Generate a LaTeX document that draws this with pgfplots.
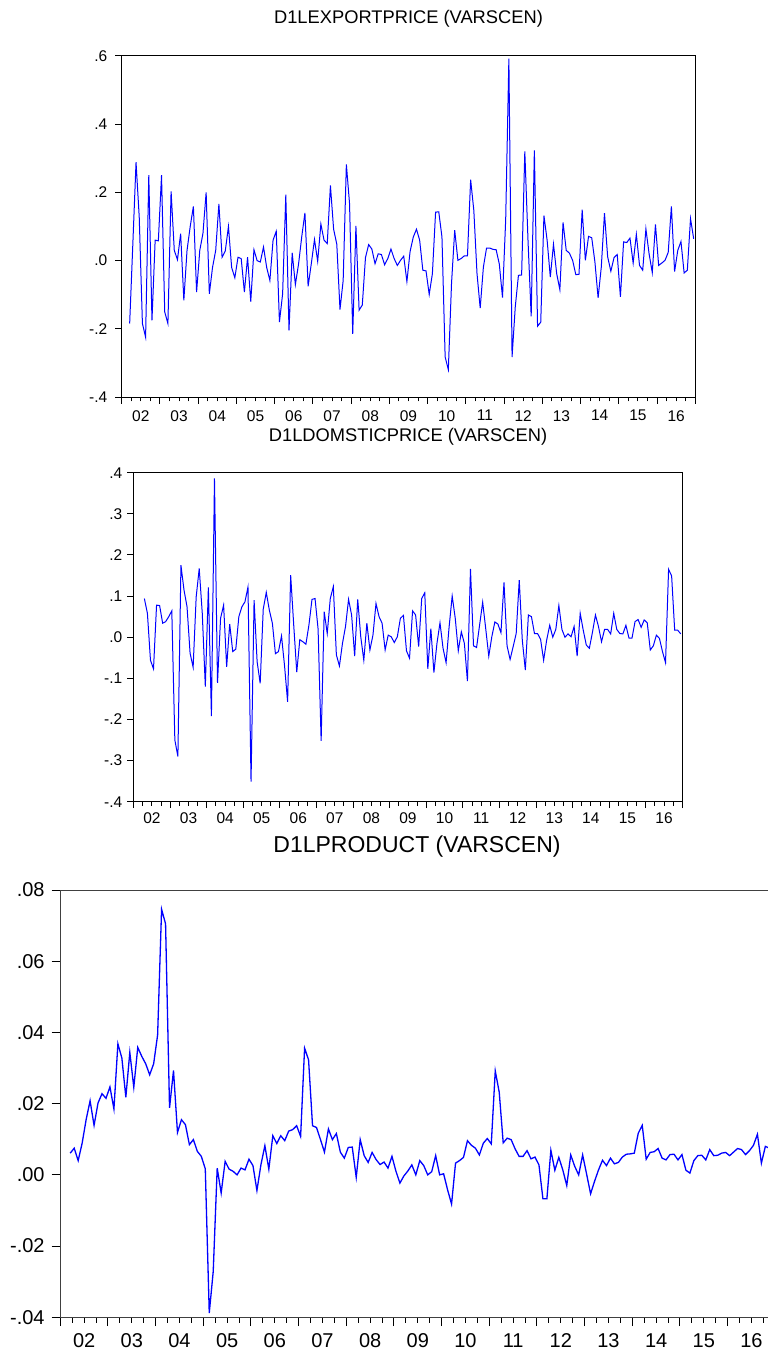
\documentclass[border=0pt]{standalone}
\usepackage{fontspec}
\setmainfont{Liberation Sans}
\usepackage{pgfplots}
\pgfplotsset{compat=1.18}
\pgfplotsset{
  evstyle/.style={
    scale only axis,
    xmin=0, xmax=180,
    xtick={0,12,...,180}, xticklabels={},
    minor xtick={3,6,...,177},
    extra x ticks={6,18,...,174},
    extra x tick labels={02,03,04,05,06,07,08,09,10,11,12,13,14,15,16},
    extra x tick style={major tick length=0pt},
    xtick pos=bottom, ytick pos=left,
    tick align=outside,
    scaled y ticks=false, scaled x ticks=false,
    axis line style={line width=0.5pt},
    tick style={black, line width=0.5pt},
    xticklabel style={anchor=north, inner sep=0pt},
    yticklabel style={anchor=east, inner sep=0pt},
    clip=true,
  }
}
\begin{document}
\begin{tikzpicture}
\useasboundingbox (0,0) rectangle (383.5pt,675.5pt);
% ---------- Panel 1 ----------
\node[anchor=base, font=\fontsize{9.15pt}{11pt}\selectfont] at (204.25pt,663.85pt) {D1LEXPORTPRICE (VARSCEN)};
\begin{axis}[evstyle, at={(60.85pt,476.85pt)}, anchor=south west,
  width=286.8pt, height=170.8pt, ymin=-0.4, ymax=0.6,
  major tick length=3.25pt, minor tick length=2pt,
  ytick={-0.4,-0.2,0,0.2,0.4,0.6}, yticklabels={-.4,-.2,.0,.2,.4,.6},
  tick label style={font=\fontsize{7.75pt}{9pt}\selectfont},
  xticklabel style={yshift=-6.25pt}, yticklabel style={xshift=-3.75pt}]
\addplot[blue, line width=0.5pt, mark=none] coordinates {
(2.5,-0.184)(3.5,0.05)(4.5,0.288)(5.5,0.128)(6.5,-0.184)(7.5,-0.224)(8.5,0.25)(9.5,-0.175)(10.5,0.06)(11.5,0.058)
(12.5,0.25)(13.5,-0.15)(14.5,-0.184)(15.5,0.203)(16.5,0.03)(17.5,0.003)(18.5,0.079)(19.5,-0.116)(20.5,0.03)(21.5,0.1)
(22.5,0.159)(23.5,-0.092)(24.5,0.03)(25.5,0.08)(26.5,0.2)(27.5,-0.097)(28.5,-0.02)(29.5,0.03)(30.5,0.166)(31.5,0.01)
(32.5,0.028)(33.5,0.1)(34.5,-0.02)(35.5,-0.05)(36.5,0.01)(37.5,0.006)(38.5,-0.092)(39.5,0.01)(40.5,-0.12)(41.5,0.032)
(42.5,0.0)(43.5,-0.004)(44.5,0.04)(45.5,-0.02)(46.5,-0.058)(47.5,0.06)(48.5,0.086)(49.5,-0.18)(50.5,-0.097)(51.5,0.193)
(52.5,-0.204)(53.5,0.023)(54.5,-0.07)(55.5,-0.01)(56.5,0.07)(57.5,0.14)(58.5,-0.075)(59.5,-0.009)(60.5,0.062)(61.5,-0.002)
(62.5,0.107)(63.5,0.06)(64.5,0.05)(65.5,0.22)(66.5,0.092)(67.5,0.048)(68.5,-0.143)(69.5,-0.058)(70.5,0.282)(71.5,0.167)
(72.5,-0.214)(73.5,0.102)(74.5,-0.145)(75.5,-0.13)(76.5,0.009)(77.5,0.047)(78.5,0.034)(79.5,-0.009)(80.5,0.02)(81.5,0.018)
(82.5,-0.012)(83.5,0.006)(84.5,0.034)(85.5,0.006)(86.5,-0.014)(87.5,0.001)(88.5,0.013)(89.5,-0.061)(90.5,0.027)(91.5,0.069)
(92.5,0.092)(93.5,0.06)(94.5,-0.028)(95.5,-0.03)(96.5,-0.099)(97.5,-0.038)(98.5,0.142)(99.5,0.143)(100.5,0.069)(101.5,-0.282)
(102.5,-0.319)(103.5,-0.067)(104.5,0.089)(105.5,0.001)(106.5,0.006)(107.5,0.014)(108.5,0.014)(109.5,0.237)(110.5,0.147)(111.5,-0.038)
(112.5,-0.139)(113.5,-0.019)(114.5,0.037)(115.5,0.037)(116.5,0.033)(117.5,0.032)(118.5,-0.01)(119.5,-0.108)(120.5,0.12)(121.5,0.591)
(122.5,-0.282)(123.5,-0.136)(124.5,-0.043)(125.5,-0.042)(126.5,0.32)(127.5,0.06)(128.5,-0.163)(129.5,0.323)(130.5,-0.192)(131.5,-0.18)
(132.5,0.132)(133.5,0.06)(134.5,-0.048)(135.5,0.048)(136.5,-0.038)(137.5,-0.085)(138.5,0.112)(139.5,0.03)(140.5,0.022)(141.5,0.001)
(142.5,-0.041)(143.5,-0.04)(144.5,0.149)(145.5,0.001)(146.5,0.071)(147.5,0.067)(148.5,-0.004)(149.5,-0.109)(150.5,-0.019)(151.5,0.139)
(152.5,0.011)(153.5,-0.031)(154.5,0.009)(155.5,0.018)(156.5,-0.106)(157.5,0.055)(158.5,0.053)(159.5,0.066)(160.5,-0.007)(161.5,0.077)
(162.5,-0.014)(163.5,-0.028)(164.5,0.093)(165.5,0.02)(166.5,-0.035)(167.5,0.106)(168.5,-0.014)(169.5,-0.007)(170.5,0.001)(171.5,0.024)
(172.5,0.159)(173.5,-0.032)(174.5,0.03)(175.5,0.056)(176.5,-0.036)(177.5,-0.028)(178.5,0.123)(179.5,0.064)
};
\end{axis}
% ---------- Panel 2 ----------
\node[anchor=base, font=\fontsize{9.15pt}{11pt}\selectfont] at (204pt,454.65pt) {D1LDOMSTICPRICE (VARSCEN)};
\begin{axis}[evstyle, at={(66.85pt,274.65pt)}, anchor=south west,
  width=274.3pt, height=164.5pt, ymin=-0.4, ymax=0.4,
  major tick length=3.25pt, minor tick length=2pt,
  ytick={-0.4,-0.3,-0.2,-0.1,0,0.1,0.2,0.3,0.4}, yticklabels={-.4,-.3,-.2,-.1,.0,.1,.2,.3,.4},
  tick label style={font=\fontsize{7.75pt}{9pt}\selectfont},
  xticklabel style={yshift=-5.5pt}, yticklabel style={xshift=-2.25pt}]
\addplot[blue, line width=0.5pt, mark=none] coordinates {
(3.5,0.094)(4.5,0.058)(5.5,-0.056)(6.5,-0.077)(7.5,0.078)(8.5,0.077)(9.5,0.034)(10.5,0.038)(11.5,0.05)
(12.5,0.064)(13.5,-0.25)(14.5,-0.29)(15.5,0.175)(16.5,0.115)(17.5,0.074)(18.5,-0.039)(19.5,-0.073)(20.5,0.098)(21.5,0.167)
(22.5,0.058)(23.5,-0.12)(24.5,0.121)(25.5,-0.192)(26.5,0.386)(27.5,-0.111)(28.5,0.046)(29.5,0.078)(30.5,-0.072)(31.5,0.032)
(32.5,-0.035)(33.5,-0.029)(34.5,0.05)(35.5,0.074)(36.5,0.086)(37.5,0.122)(38.5,-0.351)(39.5,0.09)(40.5,-0.06)(41.5,-0.112)
(42.5,0.068)(43.5,0.109)(44.5,0.066)(45.5,0.034)(46.5,-0.04)(47.5,-0.035)(48.5,0.003)(49.5,-0.07)(50.5,-0.157)(51.5,0.151)
(52.5,0.03)(53.5,-0.085)(54.5,-0.006)(55.5,-0.011)(56.5,-0.017)(57.5,0.03)(58.5,0.092)(59.5,0.094)(60.5,0.02)(61.5,-0.252)
(62.5,0.062)(63.5,0.009)(64.5,0.094)(65.5,0.123)(66.5,-0.043)(67.5,-0.07)(68.5,-0.015)(69.5,0.026)(70.5,0.092)(71.5,0.054)
(72.5,-0.046)(73.5,0.092)(74.5,0.001)(75.5,-0.056)(76.5,0.034)(77.5,-0.031)(78.5,0.005)(79.5,0.082)(80.5,0.05)(81.5,0.034)
(82.5,-0.031)(83.5,0.005)(84.5,0.001)(85.5,-0.013)(86.5,0.001)(87.5,0.046)(88.5,0.053)(89.5,-0.033)(90.5,-0.051)(91.5,0.064)
(92.5,0.054)(93.5,-0.023)(94.5,0.094)(95.5,0.108)(96.5,-0.077)(97.5,0.021)(98.5,-0.086)(99.5,-0.015)(100.5,0.035)(101.5,-0.027)
(102.5,-0.062)(103.5,0.026)(104.5,0.1)(105.5,0.046)(106.5,-0.033)(107.5,0.013)(108.5,-0.015)(109.5,-0.107)(110.5,0.166)(111.5,-0.021)
(112.5,-0.025)(113.5,0.03)(114.5,0.085)(115.5,0.021)(116.5,-0.046)(117.5,0.001)(118.5,0.037)(119.5,0.032)(120.5,0.011)(121.5,0.133)
(122.5,-0.021)(123.5,-0.054)(124.5,-0.023)(125.5,0.009)(126.5,0.139)(127.5,-0.007)(128.5,-0.08)(129.5,0.054)(130.5,0.05)(131.5,0.009)
(132.5,0.009)(133.5,-0.005)(134.5,-0.056)(135.5,-0.007)(136.5,0.029)(137.5,0.0)(138.5,0.019)(139.5,0.077)(140.5,0.019)(141.5,0.0)
(142.5,0.008)(143.5,0.001)(144.5,0.026)(145.5,-0.046)(146.5,0.058)(147.5,0.017)(148.5,-0.019)(149.5,-0.027)(150.5,0.011)(151.5,0.054)
(152.5,0.026)(153.5,-0.011)(154.5,0.019)(155.5,0.019)(156.5,0.008)(157.5,0.058)(158.5,0.019)(159.5,0.009)(160.5,0.008)(161.5,0.029)
(162.5,-0.002)(163.5,-0.002)(164.5,0.038)(165.5,0.043)(166.5,0.024)(167.5,0.042)(168.5,0.035)(169.5,-0.031)(170.5,-0.021)(171.5,0.005)
(172.5,-0.003)(173.5,-0.035)(174.5,-0.062)(175.5,0.165)(176.5,0.149)(177.5,0.017)(178.5,0.017)(179.5,0.008)
};
\end{axis}
% ---------- Panel 3 ----------
\node[anchor=base, font=\fontsize{11.5pt}{13pt}\selectfont] at (208.5pt,249pt) {D1LPRODUCT (VARSCEN)};
\begin{axis}[evstyle, at={(30.15pt,16.85pt)}, anchor=south west,
  width=357.5pt, height=213.65pt, ymin=-0.04, ymax=0.08,
  major tick length=4.4pt, minor tick length=2.8pt,
  axis line style={black!75, line width=0.5pt},
  ytick={-0.04,-0.02,0,0.02,0.04,0.06,0.08}, yticklabels={-.04,-.02,.00,.02,.04,.06,.08},
  tick label style={font=\fontsize{10pt}{12pt}\selectfont},
  xticklabel style={yshift=-8pt}, yticklabel style={xshift=-3.25pt}]
\addplot[blue, line width=0.65pt, mark=none] coordinates {
(2.5,0.0061)(3.5,0.0075)(4.5,0.0040)(5.5,0.0089)(6.5,0.0155)(7.5,0.0208)(8.5,0.0139)(9.5,0.0202)(10.5,0.0228)(11.5,0.0215)
(12.5,0.0247)(13.5,0.0185)(14.5,0.0368)(15.5,0.0328)(16.5,0.0218)(17.5,0.0344)(18.5,0.0246)(19.5,0.0358)(20.5,0.0333)(21.5,0.0312)
(22.5,0.0281)(23.5,0.0312)(24.5,0.0393)(25.5,0.0746)(26.5,0.0705)(27.5,0.0188)(28.5,0.0293)(29.5,0.0119)(30.5,0.0155)(31.5,0.0141)
(32.5,0.0085)(33.5,0.0099)(34.5,0.0066)(35.5,0.0052)(36.5,0.0017)(37.5,-0.0388)(38.5,-0.0271)(39.5,0.0019)(40.5,-0.0051)(41.5,0.0038)
(42.5,0.0016)(43.5,0.0010)(44.5,0.0)(45.5,0.0019)(46.5,0.0014)(47.5,0.0044)(48.5,0.0026)(49.5,-0.0044)(50.5,0.0028)(51.5,0.0082)
(52.5,0.0016)(53.5,0.0110)(54.5,0.0088)(55.5,0.0110)(56.5,0.0096)(57.5,0.0123)(58.5,0.0127)(59.5,0.0138)(60.5,0.0108)(61.5,0.0356)
(62.5,0.0323)(63.5,0.0138)(64.5,0.0133)(65.5,0.0099)(66.5,0.0064)(67.5,0.0129)(68.5,0.0099)(69.5,0.0116)(70.5,0.0064)(71.5,0.0047)
(72.5,0.0077)(73.5,0.0078)(74.5,-0.0007)(75.5,0.0099)(76.5,0.0054)(77.5,0.0035)(78.5,0.0063)(79.5,0.0043)(80.5,0.0029)(81.5,0.0036)
(82.5,0.0019)(83.5,0.0052)(84.5,0.0010)(85.5,-0.0023)(86.5,-0.0003)(87.5,0.0011)(88.5,0.0028)(89.5,0.0)(90.5,0.0040)(91.5,0.0026)
(92.5,0.0)(93.5,0.0009)(94.5,0.0054)(95.5,0.0)(96.5,0.0003)(97.5,-0.0042)(98.5,-0.0082)(99.5,0.0033)(100.5,0.0040)(101.5,0.0049)
(102.5,0.0096)(103.5,0.0083)(104.5,0.0075)(105.5,0.0056)(106.5,0.0089)(107.5,0.0102)(108.5,0.0087)(109.5,0.0292)(110.5,0.0232)(111.5,0.0090)
(112.5,0.0103)(113.5,0.0099)(114.5,0.0073)(115.5,0.0052)(116.5,0.0052)(117.5,0.0068)(118.5,0.0045)(119.5,0.0050)(120.5,0.0028)(121.5,-0.0067)
(122.5,-0.0067)(123.5,0.0069)(124.5,0.0013)(125.5,0.0049)(126.5,0.0014)(127.5,-0.0030)(128.5,0.0056)(129.5,0.0024)(130.5,0.0)(131.5,0.0056)
(132.5,0.0002)(133.5,-0.0053)(134.5,-0.0018)(135.5,0.0014)(136.5,0.0041)(137.5,0.0026)(138.5,0.0047)(139.5,0.0031)(140.5,0.0035)(141.5,0.0050)
(142.5,0.0058)(143.5,0.0059)(144.5,0.0061)(145.5,0.0117)(146.5,0.0139)(147.5,0.0044)(148.5,0.0063)(149.5,0.0065)(150.5,0.0074)(151.5,0.0047)
(152.5,0.0042)(153.5,0.0057)(154.5,0.0058)(155.5,0.0042)(156.5,0.0057)(157.5,0.0013)(158.5,0.0005)(159.5,0.0040)(160.5,0.0054)(161.5,0.0055)
(162.5,0.0042)(163.5,0.0071)(164.5,0.0054)(165.5,0.0055)(166.5,0.0061)(167.5,0.0063)(168.5,0.0054)(169.5,0.0064)(170.5,0.0074)(171.5,0.0071)
(172.5,0.0057)(173.5,0.0068)(174.5,0.0083)(175.5,0.0114)(176.5,0.0033)(177.5,0.0080)(178.5,0.0075)(179.5,0.0070)
};
\end{axis}
\end{tikzpicture}
\end{document}
